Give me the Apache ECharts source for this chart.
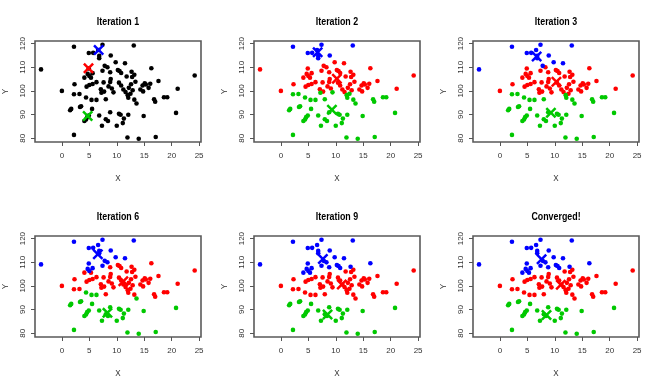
<!DOCTYPE html>
<html><head><meta charset="utf-8">
<script src="https://cdn.jsdelivr.net/npm/echarts@6/dist/echarts.min.js"></script>
<style>html,body{margin:0;padding:0;background:#fff}#c{width:657px;height:388px}</style>
</head><body><div id="c"></div>
<script>
// ---- data ----
const titles = ['Iteration 1', 'Iteration 2', 'Iteration 3', 'Iteration 6', 'Iteration 9', 'Converged!'];
const xTicks = [0, 5, 10, 15, 20, 25];
const yTicks = [80, 90, 100, 110, 120];

const px = [
  2.2, 7.4, 13.1, -3.8, 4.9, 5.7, 6.6, 6.8, 6.8, 8.9,
  9.8, 11.5, 7.8, 8.3, 7.4, 4.9, 4.1, 4.7, 5.0, 5.3,
  5.6, 8.8, 10.2, 10.5, 10.8, 12.7, 16.3,
  0.0, 2.3, 2.2, 3.2, 4.4, 4.5, 5.0, 5.6, 5.4, 6.3,
  6.3, 7.1, 7.2, 7.6, 8.0, 7.7, 8.5, 8.9, 8.8, 9.1,
  9.4, 11.8, 13.2, 13.4, 12.9, 13.2, 13.6, 14.3, 14.7, 15.1,
  15.3, 14.8, 16.1, 15.8, 17.6, 16.8, 17.0, 18.6, 19.2, 21.1,
  24.2, 10.8, 11.2, 11.6, 12.0, 12.1, 12.5, 12.2, 12.6, 10.4,
  12.8,
  1.5, 1.7, 2.2, 3.3, 3.5, 4.1, 4.4, 4.6, 4.9, 5.5,
  6.8, 7.3, 8.0, 8.4, 8.8, 10.0, 10.4, 10.7, 11.3, 11.1,
  12.1, 11.95, 14.0, 14.9, 17.1, 20.8
];
const py = [
  118.7, 119.5, 119.2, 109.1, 116.0, 116.1, 117.3, 114.8, 113.8, 115.0,
  112.1, 111.7, 110.6, 110.0, 108.5, 109.5, 105.6, 107.2, 106.3, 105.6,
  107.5, 107.9, 108.8, 108.4, 107.6, 108.1, 109.6,
  100.0, 102.8, 98.6, 98.7, 97.2, 101.8, 102.5, 102.9, 96.2, 103.7,
  96.2, 100.7, 99.2, 103.6, 96.5, 99.7, 101.9, 105.0, 103.8, 101.0,
  99.4, 106.1, 106.8, 103.9, 100.3, 96.3, 94.7, 100.6, 102.3, 103.2,
  102.7, 99.8, 103.0, 101.3, 104.2, 96.5, 95.4, 97.3, 97.3, 100.9,
  106.5, 102.3, 100.6, 99.5, 98.2, 97.1, 98.8, 101.3, 102.8, 103.5,
  105.9,
  91.8, 92.4, 81.4, 93.2, 93.5, 87.3, 87.9, 88.9, 89.6, 92.4,
  89.6, 85.3, 88.0, 87.3, 91.0, 85.3, 90.3, 89.9, 88.3, 86.4,
  89.9, 80.3, 79.8, 89.4, 80.5, 90.7
];

// cluster of each point in each panel (k = not yet assigned, r/b/g)
const lab1 = 'kkkkkkkkkk kkkkkkkkkk kkkkkkk kkkkkkkkkk kkkkkkkkkk kkkkkkkkkk kkkkkkkkkk kkkkkkkkkk k kkkkkkkkkk kkkkkkkkkk kkkkkk';
const lab2 = 'bbbrbbbbbb rrrrrrrrrr rrrrrrr rrgggrrrgr grgrgrrrrr grrrrggrrr rrrrrggggr rrrrgggrrr r gggggggggg gggggggggg gggggg';
const lab3 = 'bbbbbbbbbb bbbrrrrrrr rrrrrrr rrgggrrrgr grrrgrrrrr rrrrrggrrr rrrrrggggr rrrrggrrrr r gggggggggg gggggggggg gggggg';
const lab6 = 'bbbbbbbbbb bbbbbbrbbr brrrrrr rrrrgrrrgr grrrrrrrrr rrrrrrgrrr rrrrrrrrrr rrrrrrrrrr r gggggggggg gggggggggg gggggg';
const lab9 = 'bbbbbbbbbb bbbbbbbbbb bbbbbbb rrrrrrrrrr rrrrrrrrrr rrrrrrrrrr rrrrrrrrrr rrrrrrrrrr r gggggggggg gggggggggg gggggg';
const labC = 'bbbbbbbbbb bbbbbbbbbb bbbbbbb rrrrrrrrrr rrrrrrrrrr rrrrrrrrrr rrrrrrrrrr rrrrrrrrrr r gggggggggg gggggggggg gggggg';

// centroids shown as X: [red, blue, green]
const cen1 = [[4.85, 109.6], [6.7, 117.3], [4.7, 89.4]];
const cen2 = [[10.2, 105.1], [6.7, 116.3], [9.3, 92.0]];
const cen3 = [[10.3, 103.9], [6.7, 114.5], [9.3, 90.8]];
const cen6 = [[11.2, 102.0], [6.55, 113.4], [8.3, 88.6]];
const cen9 = [[11.1, 100.6], [7.65, 111.4], [8.5, 87.9]];
const cenC = [[11.1, 100.5], [7.6, 111.3], [8.5, 87.7]];

// ---- layout / style ----
const labels = [lab1, lab2, lab3, lab6, lab9, labC].map(s => s.replace(/\s/g, ''));
const cents = [cen1, cen2, cen3, cen6, cen9, cenC];
const COLORS = { r: '#ff0000', b: '#0000ff', g: '#00c800', k: '#000000' };
const FONT = "'Liberation Sans', Arial, sans-serif";
const lefts = [35, 254, 473];
const tops = [41, 236];
const PW = 166, PH = 101;
const XPATH = 'path://M1.6,0L5,3.4L8.4,0L10,1.6L6.6,5L10,8.4L8.4,10L5,6.6L1.6,10L0,8.4L3.4,5L0,1.6Z';

const grid = [], xAxis = [], yAxis = [], series = [], graphic = [];
for (let i = 0; i < 6; i++) {
  const L = lefts[i % 3], T = tops[Math.floor(i / 3)];
  grid.push({ left: L, top: T, width: PW, height: PH, show: true, borderColor: '#5a5a5a', borderWidth: 1.6, backgroundColor: 'transparent' });
  xAxis.push({
    gridIndex: i, type: 'value', min: -4.9, max: 25.35,
    splitLine: { show: false }, axisLine: { show: false, onZero: false },
    axisTick: { show: true, length: 4, lineStyle: { color: '#555', width: 1 }, customValues: xTicks },
    axisLabel: { customValues: xTicks, fontSize: 8, color: '#333', margin: 10, fontFamily: FONT }
  });
  yAxis.push({
    gridIndex: i, type: 'value', min: 78.4, max: 121.1,
    splitLine: { show: false }, axisLine: { show: false, onZero: false },
    axisTick: { show: true, length: 4, lineStyle: { color: '#555', width: 1 }, customValues: yTicks },
    axisLabel: { customValues: yTicks, fontSize: 8, color: '#333', margin: 8, rotate: 90, fontFamily: FONT }
  });
  const lab = labels[i];
  ['k', 'r', 'b', 'g'].forEach(c => {
    const data = [];
    for (let j = 0; j < px.length; j++) if (lab[j] === c) data.push([px[j], py[j]]);
    if (data.length) series.push({
      type: 'scatter', xAxisIndex: i, yAxisIndex: i, data, symbol: 'circle', symbolSize: 4.6,
      itemStyle: { color: COLORS[c], opacity: 1 }, silent: true, z: 2
    });
  });
  const cc = ['r', 'b', 'g'];
  series.push({
    type: 'scatter', xAxisIndex: i, yAxisIndex: i, symbol: XPATH, symbolSize: [11, 11], z: 5, silent: true,
    data: cents[i].map((p, k) => ({ value: p, itemStyle: { color: COLORS[cc[k]], opacity: 1 } }))
  });
  graphic.push({ type: 'text', x: L + PW / 2, y: T - 19, scaleX: 0.82, style: { text: titles[i], fill: '#000', font: "bold 10.8px " + FONT, textAlign: 'center', textVerticalAlign: 'middle' } });
  graphic.push({ type: 'text', x: L + PW / 2, y: T + PH + 36, scaleX: 0.85, style: { text: 'X', fill: '#333', font: "9.5px " + FONT, textAlign: 'center', textVerticalAlign: 'middle' } });
  graphic.push({ type: 'text', x: L - 30, y: T + PH / 2, rotation: Math.PI / 2, scaleX: 0.85, style: { text: 'Y', fill: '#333', font: "9.5px " + FONT, textAlign: 'center', textVerticalAlign: 'middle' } });
}

const chart = echarts.init(document.getElementById('c'), null, { renderer: 'canvas' });
chart.setOption({ animation: false, backgroundColor: '#fff', grid, xAxis, yAxis, series, graphic });
</script></body></html>
